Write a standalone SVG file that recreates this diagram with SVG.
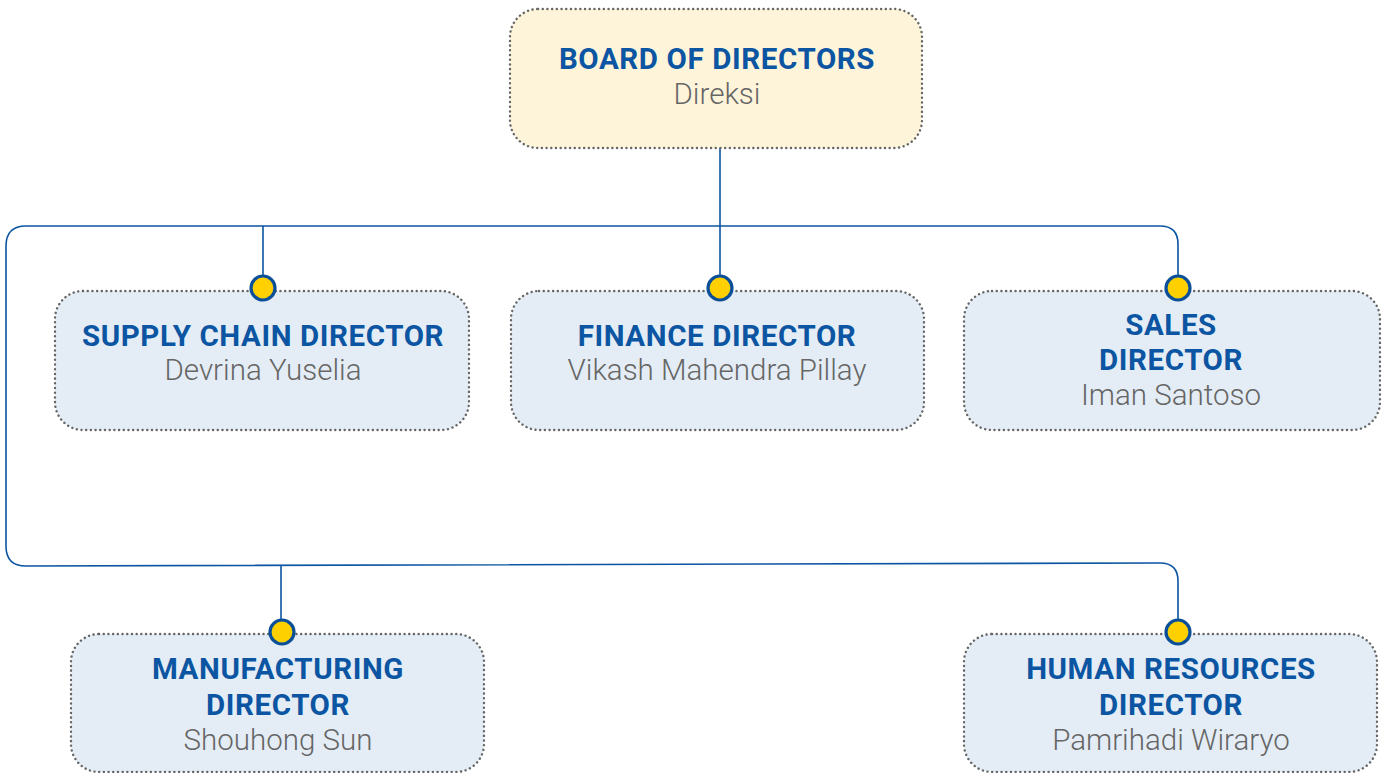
<svg xmlns="http://www.w3.org/2000/svg" width="1392" height="773" viewBox="0 0 1392 773">
  <style>
    .box { fill: #e4edf5; stroke: #666666; stroke-width: 2.4; stroke-dasharray: 0.1 4.6; stroke-linecap: round; }
    .top { fill: #fef4da; }
    .title { font-family: Roboto, "Liberation Sans", sans-serif; font-weight: 700; font-size: 29.5px; fill: #0b55a2; text-anchor: middle; letter-spacing: 0.6px; }
    .name { font-family: Roboto, "Liberation Sans", sans-serif; font-weight: 300; font-size: 29.5px; fill: #666666; text-anchor: middle; }
    .wire { fill: none; stroke: #0b55a2; stroke-width: 1.6; }
    .dot { fill: #ffd000; stroke: #0b4f98; stroke-width: 3.2; }
  </style>

  <!-- connectors -->
  <g id="connectors">
    <path class="wire" d="M720 148 V276"/>
    <path class="wire" d="M263 226 V276"/>
    <path class="wire" d="M1160 226 Q1178 226 1178 244 V276"/>
    <path class="wire" d="M26 566 Q6 566 6 546 V246 Q6 226 26 226 H1160"/>
    <path class="wire" d="M26 566 L1160 563 Q1178 563 1178 581 V620"/>
    <path class="wire" d="M281 566 V620"/>
  </g>

  <g id="board">
    <rect class="box top" x="510" y="9" width="412" height="139" rx="28"/>
    <text class="title" x="717" y="69">BOARD OF DIRECTORS</text>
    <text class="name" x="717" y="104">Direksi</text>
  </g>

  <g id="supply-chain">
    <rect class="box" x="55" y="291" width="414" height="139" rx="28"/>
    <text class="title" x="263" y="346">SUPPLY CHAIN DIRECTOR</text>
    <text class="name" x="263" y="380">Devrina Yuselia</text>
    <circle class="dot" cx="263" cy="288" r="12"/>
  </g>

  <g id="finance">
    <rect class="box" x="511" y="291" width="413" height="139" rx="28"/>
    <text class="title" x="717" y="346">FINANCE DIRECTOR</text>
    <text class="name" x="717" y="380">Vikash Mahendra Pillay</text>
    <circle class="dot" cx="720" cy="288" r="12"/>
  </g>

  <g id="sales">
    <rect class="box" x="964" y="291" width="416" height="139" rx="28"/>
    <text class="title" x="1171" y="335">SALES</text>
    <text class="title" x="1171" y="370">DIRECTOR</text>
    <text class="name" x="1171" y="405">Iman Santoso</text>
    <circle class="dot" cx="1178" cy="288" r="12"/>
  </g>

  <g id="manufacturing">
    <rect class="box" x="71" y="634" width="413" height="138" rx="28"/>
    <text class="title" x="278" y="679">MANUFACTURING</text>
    <text class="title" x="278" y="715">DIRECTOR</text>
    <text class="name" x="278" y="750">Shouhong Sun</text>
    <circle class="dot" cx="282" cy="632" r="12"/>
  </g>

  <g id="human-resources">
    <rect class="box" x="964" y="634" width="413" height="138" rx="28"/>
    <text class="title" x="1171" y="679">HUMAN RESOURCES</text>
    <text class="title" x="1171" y="715">DIRECTOR</text>
    <text class="name" x="1171" y="750">Pamrihadi Wiraryo</text>
    <circle class="dot" cx="1178" cy="632" r="12"/>
  </g>
</svg>
